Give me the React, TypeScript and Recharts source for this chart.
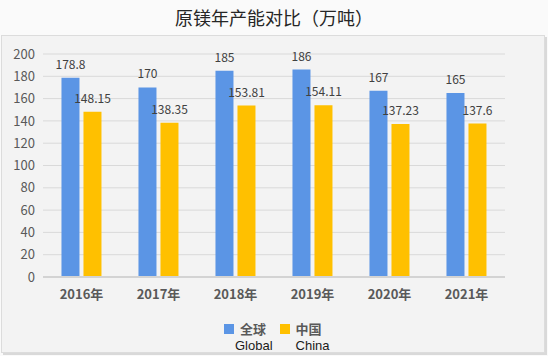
import { BarChart, Bar, XAxis, YAxis, CartesianGrid, LabelList } from 'recharts';

const years = ['2016年', '2017年', '2018年', '2019年', '2020年', '2021年'];
const globalCap = [178.8, 170, 185, 186, 167, 165];
const chinaCap = [148.15, 138.35, 153.81, 154.11, 137.23, 137.6];
const yTicks = [0, 20, 40, 60, 80, 100, 120, 140, 160, 180, 200];

const data = years.map((year, i) => ({ year, global: globalCap[i], china: chinaCap[i] }));

const FONT = '"Noto Sans CJK SC", "Noto Sans", sans-serif';
const LATIN = '"Liberation Sans", Arial, sans-serif';
const BLUE = '#5b95e5';
const YELLOW = '#ffc000';

export default function App() {
    return (
        <div style={{ position: 'absolute', left: 0, top: 0, width: 548, height: 356, background: '#fafafa', fontFamily: FONT }}>
            <div style={{ position: 'absolute', left: 0, top: 4, width: 548, textAlign: 'center', fontSize: 18, lineHeight: '26px', color: '#262626' }}>
                原镁年产能对比（万吨）
            </div>
            <div
                style={{
                    position: 'absolute', left: 1, top: 35, width: 542, height: 316,
                    background: '#f3f3f3', border: '1px solid #dcdcdc', boxShadow: '2px 2px 0 #d9d9d9',
                }}
            />
            <div style={{ position: 'absolute', left: 0, top: 0 }}>
                <BarChart width={548} height={356} data={data} margin={{ top: 54, right: 43, bottom: 49, left: 0 }}
                    barCategoryGap="24%" barGap={4}>
                    <CartesianGrid vertical={false} stroke="#d9d9d9" />
                    <XAxis dataKey="year" height={30} axisLine={{ stroke: '#d3d3d3', strokeWidth: 2 }} tickLine={false}
                        tickMargin={7} interval={0} tick={{ fontSize: 13, fill: '#595959', fontFamily: FONT, fontWeight: 600 }} />
                    <YAxis width={43} domain={[0, 200]} ticks={yTicks} interval={0} axisLine={false} tickLine={false}
                        tickSize={0} tickMargin={8} tick={{ fontSize: 13, fill: '#595959', fontFamily: FONT }} />
                    <Bar dataKey="global" fill={BLUE} isAnimationActive={false}>
                        <LabelList dataKey="global" position="top" offset={9} style={{ fontSize: 12, fill: '#404040', fontFamily: FONT }} />
                    </Bar>
                    <Bar dataKey="china" fill={YELLOW} isAnimationActive={false}>
                        <LabelList dataKey="china" position="top" offset={9} style={{ fontSize: 12, fill: '#404040', fontFamily: FONT }} />
                    </Bar>
                </BarChart>
            </div>
            <div style={{ position: 'absolute', left: 224, top: 321, display: 'flex', color: '#595959' }}>
                <div style={{ display: 'flex', flexDirection: 'column' }}>
                    <div style={{ display: 'flex', alignItems: 'center', height: 16 }}>
                        <span style={{ width: 10, height: 10, background: BLUE, display: 'inline-block', marginRight: 6 }} />
                        <span style={{ fontWeight: 600, fontSize: 13, lineHeight: '16px' }}>全球</span>
                    </div>
                    <span style={{ fontFamily: LATIN, fontSize: 13, lineHeight: '14px', color: '#1a1a1a', marginLeft: 11, marginTop: 2 }}>Global</span>
                </div>
                <div style={{ display: 'flex', flexDirection: 'column', marginLeft: 7 }}>
                    <div style={{ display: 'flex', alignItems: 'center', height: 16 }}>
                        <span style={{ width: 10, height: 10, background: YELLOW, display: 'inline-block', marginRight: 6 }} />
                        <span style={{ fontWeight: 600, fontSize: 13, lineHeight: '16px' }}>中国</span>
                    </div>
                    <span style={{ fontFamily: LATIN, fontSize: 13, lineHeight: '14px', color: '#1a1a1a', marginLeft: 16, marginTop: 2 }}>China</span>
                </div>
            </div>
        </div>
    );
}
